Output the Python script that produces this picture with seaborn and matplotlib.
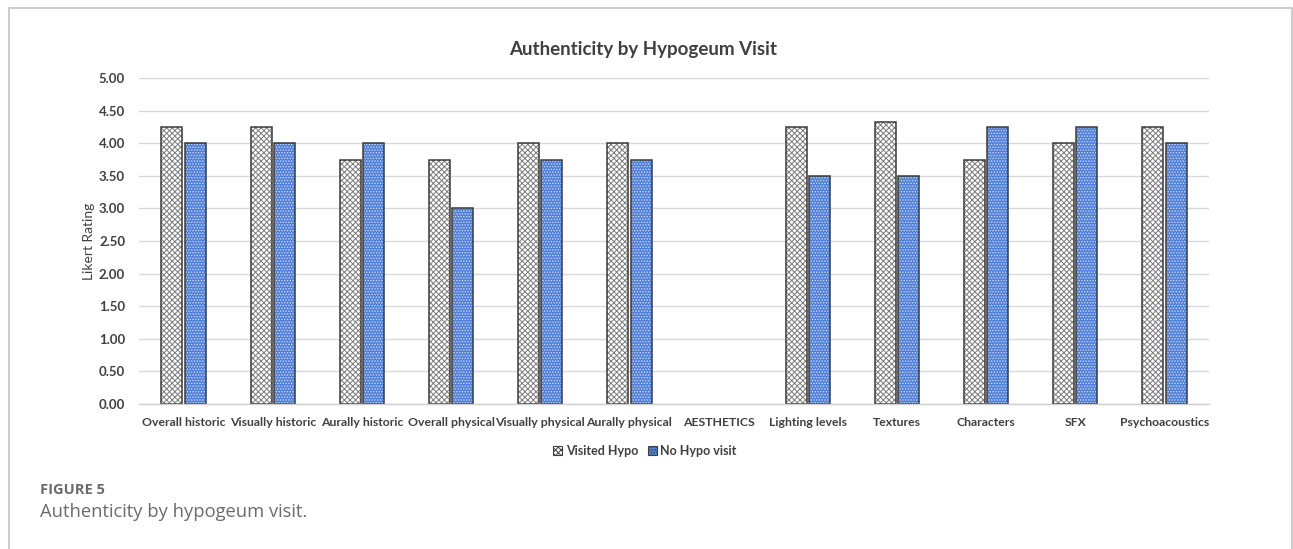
import numpy as np
import pandas as pd
import matplotlib
matplotlib.use("Agg")
import matplotlib.pyplot as plt
from matplotlib.patches import Patch, Rectangle
from matplotlib.lines import Line2D
import seaborn as sns

# Ratings per aspect (AESTHETICS is a section heading with no bars)
categories = ["Overall historic", "Visually historic", "Aurally historic",
              "Overall physical", "Visually physical", "Aurally physical",
              "AESTHETICS", "Lighting levels", "Textures", "Characters",
              "SFX", "Psychoacoustics"]
groups = ["Visited Hypo", "No Hypo visit"]
visited = [4.25, 4.25, 3.75, 3.75, 4.00, 4.00, np.nan, 4.25, 4.33, 3.75, 4.00, 4.25]
no_visit = [4.00, 4.00, 4.00, 3.00, 3.75, 3.75, np.nan, 3.50, 3.50, 4.25, 4.25, 4.00]
y_ticks = [0.0, 0.5, 1.0, 1.5, 2.0, 2.5, 3.0, 3.5, 4.0, 4.5, 5.0]

df = pd.DataFrame({
    "Aspect": categories * 2,
    "Rating": visited + no_visit,
    "Group": [groups[0]] * len(categories) + [groups[1]] * len(categories),
})

sns.set_theme(style="white")
plt.rcParams["font.family"] = ["Lato", "DejaVu Sans"]
plt.rcParams["hatch.linewidth"] = 0.7

text_col = "#404040"
fig = plt.figure(figsize=(12.93, 5.49), dpi=100)
ax = fig.add_axes([139 / 1293, 1 - 404 / 549, 1070 / 1293, 326 / 549])

sns.barplot(data=df, x="Aspect", y="Rating", hue="Group", order=categories,
            hue_order=groups, width=0.526, gap=0.106, errorbar=None,
            legend=False, ax=ax)

styles = [
    dict(face="#ffffff", hatch_col="#7c7c7c", hatch="xxxxxx"),
    dict(face="#4f7fd8", hatch_col="#c9d8f4", hatch="......"),
]
for cont, st in zip(ax.containers, styles):
    for bar in cont:
        if np.isnan(bar.get_height()):
            continue
        bar.set_facecolor(st["face"])
        bar.set_edgecolor(st["hatch_col"])
        bar.set_hatch(st["hatch"])
        bar.set_linewidth(0)
        ax.add_patch(Rectangle(bar.get_xy(), bar.get_width(), bar.get_height(),
                               fill=False, edgecolor="#3a3a3a", linewidth=1.1,
                               zorder=bar.get_zorder() + 0.1))

ax.set_ylim(0, 5)
ax.set_xlim(-0.5, len(categories) - 0.5)
ax.set_yticks(y_ticks)
ax.set_yticklabels([f"{v:.2f}" for v in y_ticks])
ax.yaxis.grid(True, color="#d9d9d9", linewidth=1.0)
ax.set_axisbelow(True)
for s in ["top", "right", "left"]:
    ax.spines[s].set_visible(False)
ax.spines["bottom"].set_color("#d0d0d0")
ax.spines["bottom"].set_linewidth(1.0)
ax.tick_params(axis="both", length=0, colors=text_col)
ax.tick_params(axis="y", pad=10)
ax.tick_params(axis="x", pad=9)
for lbl in ax.get_yticklabels():
    lbl.set_fontsize(9.5)
    lbl.set_fontweight("bold")
for lbl in ax.get_xticklabels():
    lbl.set_fontsize(8.8)
    lbl.set_fontweight("bold")
ax.set_xlabel("")
ax.set_ylabel("Likert Rating", fontsize=10, color=text_col, labelpad=3)

fig.text(643 / 1293, 1 - 50 / 549, "Authenticity by Hypogeum Visit",
         ha="center", va="center", fontsize=13.5, fontweight="bold", color=text_col)

handles = [Patch(facecolor=st["face"], edgecolor="#404040", hatch=st["hatch"],
                 linewidth=0.8) for st in styles]
leg = fig.legend(handles, groups, loc="center", bbox_to_anchor=(645 / 1293, 1 - 451 / 549),
                 ncol=2, frameon=False, handlelength=0.7, handleheight=0.7,
                 handletextpad=0.3, columnspacing=0.8,
                 prop={"size": 9, "weight": "bold"})
for t in leg.get_texts():
    t.set_color(text_col)

# Caption block and panel frame
fig.text(40 / 1293, 1 - 490 / 549, "FIGURE 5", ha="left", va="center",
         fontsize=10.5, fontweight="bold", color="#6b6b6b", family=["Open Sans", "DejaVu Sans"])
fig.text(40 / 1293, 1 - 512 / 549, "Authenticity by hypogeum visit.", ha="left",
         va="center", fontsize=13.2, color="#6b6b6b", family=["Open Sans", "DejaVu Sans"])
frame_col = "#c8c8c8"
x0, x1, yt = 8.5 / 1293, 1292 / 1293, 1 - 7.5 / 549
fig.add_artist(Line2D([x0, x0, x1, x1], [0, yt, yt, 0], color=frame_col,
                      linewidth=1.3, transform=fig.transFigure))

fig.savefig("out.png", dpi=100)
